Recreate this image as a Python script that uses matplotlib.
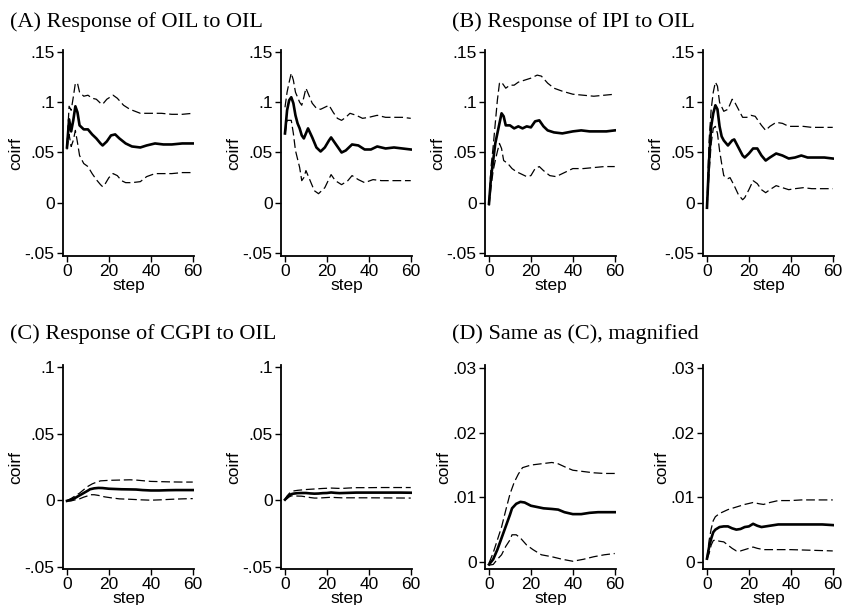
import matplotlib
matplotlib.use("Agg")
import matplotlib.pyplot as plt

# ---- data (step, coirf) ----
# (A) Response of OIL to OIL, left
a1_mid_x = [0, 1, 2, 3, 4, 5, 6, 8, 10, 12, 14, 16, 17, 19, 21, 23, 25, 28, 31, 35, 38, 42, 46, 50, 55, 60]
a1_mid_y = [.055, .083, .071, .082, .096, .090, .077, .073, .073, .068, .064, .059, .057, .061, .067, .068,
            .064, .059, .056, .055, .057, .059, .058, .058, .059, .059]
a1_hi_x = [0, 1, 2, 3, 4, 5, 6, 8, 10, 12, 14, 16, 17, 19, 22, 24, 27, 30, 35, 40, 45, 50, 55, 60]
a1_hi_y = [.056, .096, .092, .105, .119, .119, .110, .106, .107, .104, .103, .099, .098, .103, .107, .104,
           .097, .093, .089, .089, .089, .088, .088, .089]
a1_lo_x = [0, 1, 2, 3, 4, 5, 6, 8, 10, 12, 14, 16, 17, 18, 20, 22, 24, 26, 28, 31, 35, 38, 42, 46, 50, 55, 60]
a1_lo_y = [.053, .068, .056, .062, .072, .060, .047, .039, .036, .029, .023, .018, .016, .018, .025, .029,
           .027, .022, .020, .020, .021, .026, .029, .029, .029, .030, .030]

# (A) right
a2_mid_x = [0, 1, 2, 3, 4, 5, 6, 7, 8, 9, 11, 13, 15, 17, 19, 21, 22, 24, 27, 29, 32, 35, 38, 41, 44, 48, 52, 56, 60]
a2_mid_y = [.069, .092, .102, .105, .099, .087, .079, .074, .067, .064, .074, .065, .055, .051, .055, .062,
            .065, .059, .050, .052, .058, .057, .053, .053, .056, .054, .055, .054, .053]
a2_hi_x = [0, 1, 2, 3, 4, 5, 7, 8, 9, 10, 11, 13, 15, 17, 19, 21, 23, 25, 27, 29, 31, 34, 37, 40, 44, 48, 52, 56, 60]
a2_hi_y = [.095, .110, .120, .129, .122, .110, .100, .097, .105, .114, .109, .099, .094, .093, .095, .097,
           .090, .084, .082, .085, .089, .087, .084, .085, .087, .085, .085, .085, .084]
a2_lo_x = [0, 1, 3, 4, 5, 7, 8, 9, 10, 12, 14, 16, 19, 22, 24, 27, 30, 32, 35, 38, 42, 46, 50, 55, 60]
a2_lo_y = [.068, .082, .082, .069, .052, .035, .022, .025, .032, .022, .012, .009, .015, .028, .022, .018,
           .022, .027, .023, .020, .023, .022, .022, .022, .022]

# (B) Response of IPI to OIL, left
b1_mid_x = [0, 1, 2, 3, 4, 5, 6, 7, 8, 10, 12, 14, 16, 18, 20, 22, 24, 26, 28, 31, 35, 40, 44, 48, 52, 56, 60]
b1_mid_y = [-.001, .026, .042, .059, .069, .079, .089, .086, .077, .077, .074, .076, .074, .076, .075, .081,
            .082, .076, .072, .070, .069, .071, .072, .071, .071, .071, .072]
b1_hi_x = [0, 1, 2, 3, 4, 5, 6, 8, 10, 12, 14, 17, 20, 23, 25, 28, 31, 35, 40, 45, 50, 55, 60]
b1_hi_y = [-.001, .036, .056, .079, .102, .119, .120, .114, .117, .117, .120, .122, .124, .127, .126, .119,
           .114, .111, .108, .107, .106, .107, .108]
b1_lo_x = [0, 1, 2, 3, 4, 5, 6, 7, 9, 11, 13, 15, 18, 20, 22, 24, 26, 29, 32, 35, 40, 45, 50, 55, 60]
b1_lo_y = [-.003, .016, .032, .042, .051, .059, .054, .042, .039, .034, .031, .029, .026, .027, .034, .036,
           .032, .027, .026, .029, .034, .034, .035, .036, .036]

# (B) right
b2_mid_x = [0, 1, 2, 3, 4, 5, 6, 7, 8, 10, 12, 13, 15, 17, 18, 20, 22, 24, 26, 28, 30, 33, 36, 39, 42, 45, 48, 52, 56, 60]
b2_mid_y = [-.005, .042, .076, .089, .097, .093, .076, .066, .062, .057, .062, .063, .055, .047, .045, .049,
            .054, .054, .047, .042, .045, .049, .047, .044, .045, .047, .045, .045, .045, .044]
b2_hi_x = [0, 1, 2, 3, 4, 5, 6, 8, 10, 12, 13, 15, 17, 19, 21, 23, 26, 28, 30, 33, 36, 39, 42, 46, 50, 55, 60]
b2_hi_y = [-.003, .062, .093, .110, .120, .116, .100, .091, .093, .103, .101, .093, .085, .085, .087, .086,
           .077, .072, .076, .080, .079, .076, .076, .076, .075, .075, .075]
b2_lo_x = [0, 1, 2, 3, 4, 5, 6, 7, 8, 10, 11, 13, 15, 17, 18, 20, 22, 24, 26, 28, 30, 33, 36, 39, 42, 46, 50, 55, 60]
b2_lo_y = [-.005, .029, .059, .074, .076, .069, .052, .039, .027, .024, .025, .017, .008, .003, .005, .013,
           .022, .019, .013, .010, .013, .017, .015, .013, .014, .015, .014, .014, .014]

# (C) Response of CGPI to OIL, left  (also (D) left)
c1_mid_x = [0, 2, 4, 6, 8, 10, 11, 13, 15, 17, 20, 23, 26, 30, 33, 36, 40, 44, 48, 52, 56, 60]
c1_mid_y = [-.0004, .0004, .0019, .0037, .0055, .0073, .0083, .0090, .0093, .0092, .0087, .0085, .0083,
            .0082, .0081, .0077, .0074, .0074, .0076, .0077, .0077, .0077]
c1_hi_x = [0, 2, 4, 6, 8, 10, 12, 14, 16, 20, 25, 30, 33, 37, 40, 45, 50, 55, 60]
c1_hi_y = [-.0002, .0014, .0034, .0054, .0080, .0105, .0123, .0136, .0146, .0150, .0152, .0154, .0152,
           .0146, .0142, .0140, .0138, .0137, .0137]
c1_lo_x = [0, 2, 4, 6, 8, 10, 11, 13, 15, 18, 21, 25, 30, 35, 40, 45, 50, 55, 60]
c1_lo_y = [-.0005, -.0004, .0004, .0011, .0024, .0034, .0042, .0042, .0037, .0026, .0019, .0011, .0008,
           .0004, .0001, .0004, .0008, .0011, .0013]

# (C) right  (also (D) right)
c2_mid_x = [0, 1, 2, 3, 4, 6, 8, 10, 12, 14, 16, 18, 20, 22, 24, 26, 28, 30, 34, 40, 45, 50, 55, 60]
c2_mid_y = [.0005, .0023, .0036, .0046, .0050, .0054, .0055, .0055, .0052, .0050, .0051, .0054, .0055,
            .0059, .0056, .0054, .0055, .0056, .0058, .0058, .0058, .0058, .0058, .0057]
c2_hi_x = [0, 1, 2, 3, 4, 6, 8, 10, 14, 18, 22, 25, 27, 30, 34, 40, 45, 50, 55, 60]
c2_hi_y = [.0005, .0033, .0051, .0064, .0070, .0075, .0078, .0081, .0085, .0089, .0092, .0090, .0089,
           .0092, .0095, .0095, .0096, .0096, .0096, .0096]
c2_lo_x = [0, 1, 2, 3, 4, 6, 8, 10, 12, 14, 16, 18, 20, 22, 24, 27, 30, 35, 40, 50, 60]
c2_lo_y = [.0004, .0013, .0026, .0033, .0034, .0032, .0031, .0026, .0021, .0017, .0017, .0019, .0021,
           .0023, .0021, .0019, .0019, .0019, .0019, .0018, .0017]

x_ticks = [0, 20, 40, 60]
top_yticks = [-.05, 0, .05, .1, .15]
top_ylabels = ["-.05", "0", ".05", ".1", ".15"]
c_yticks = [-.05, 0, .05, .1]
c_ylabels = ["-.05", "0", ".05", ".1"]
d_yticks = [0, .01, .02, .03]
d_ylabels = ["0", ".01", ".02", ".03"]

titles = ["(A) Response of OIL to OIL", "(B) Response of IPI to OIL",
          "(C) Response of CGPI to OIL", "(D) Same as (C), magnified"]

W, H = 843, 605
fig = plt.figure(figsize=(W / 100, H / 100), dpi=100)
sans = ["Liberation Sans", "DejaVu Sans"]


def panel(left, top, bottom, lines, ylim, yt, ylab):
    ax = fig.add_axes([left / W, 1 - bottom / H, 131 / W, (bottom - top) / H])
    mx, my, hx, hy, lx, ly = lines
    ax.plot(hx, hy, color="black", lw=0.9, dashes=(7, 3))
    ax.plot(lx, ly, color="black", lw=0.9, dashes=(7, 3))
    ax.plot(mx, my, color="black", lw=1.9)
    ax.set_xlim(-1.9, 60.6)
    ax.set_ylim(*ylim)
    ax.set_xticks(x_ticks)
    ax.set_xticklabels([str(t) for t in x_ticks])
    ax.set_yticks(yt)
    ax.set_yticklabels(ylab)
    for s in ["top", "right"]:
        ax.spines[s].set_visible(False)
    for s in ["left", "bottom"]:
        ax.spines[s].set_linewidth(1.3)
    ax.tick_params(direction="out", length=4, width=1, labelsize=12.5, pad=2)
    for lab in ax.get_xticklabels() + ax.get_yticklabels():
        lab.set_family(sans)
    ax.set_xlabel("step", family=sans, fontsize=12.5, labelpad=-1)
    ax.set_ylabel("coirf", family=sans, fontsize=12.5, labelpad=1)
    return ax


lefts = [63, 281, 485, 703]
top_lim = (-0.053, 0.152)
panel(lefts[0], 50, 256, (a1_mid_x, a1_mid_y, a1_hi_x, a1_hi_y, a1_lo_x, a1_lo_y), top_lim, top_yticks, top_ylabels)
panel(lefts[1], 50, 256, (a2_mid_x, a2_mid_y, a2_hi_x, a2_hi_y, a2_lo_x, a2_lo_y), top_lim, top_yticks, top_ylabels)
panel(lefts[2], 50, 256, (b1_mid_x, b1_mid_y, b1_hi_x, b1_hi_y, b1_lo_x, b1_lo_y), top_lim, top_yticks, top_ylabels)
panel(lefts[3], 50, 256, (b2_mid_x, b2_mid_y, b2_hi_x, b2_hi_y, b2_lo_x, b2_lo_y), top_lim, top_yticks, top_ylabels)

c_lim = (-0.0515, 0.1015)
d_lim = (-0.0011, 0.0305)
c1 = (c1_mid_x, c1_mid_y, c1_hi_x, c1_hi_y, c1_lo_x, c1_lo_y)
c2 = (c2_mid_x, c2_mid_y, c2_hi_x, c2_hi_y, c2_lo_x, c2_lo_y)
panel(lefts[0], 365, 569, c1, c_lim, c_yticks, c_ylabels)
panel(lefts[1], 365, 569, c2, c_lim, c_yticks, c_ylabels)
panel(lefts[2], 365, 569, c1, d_lim, d_yticks, d_ylabels)
panel(lefts[3], 365, 569, c2, d_lim, d_yticks, d_ylabels)

serif = ["Liberation Serif", "DejaVu Serif"]
for (tx, ty), t in zip([(10, 27), (452, 27), (10, 339), (452, 339)], titles):
    fig.text(tx / W, 1 - ty / H, t, family=serif, fontsize=16, va="baseline", ha="left")

fig.savefig("out.png", dpi=100)
